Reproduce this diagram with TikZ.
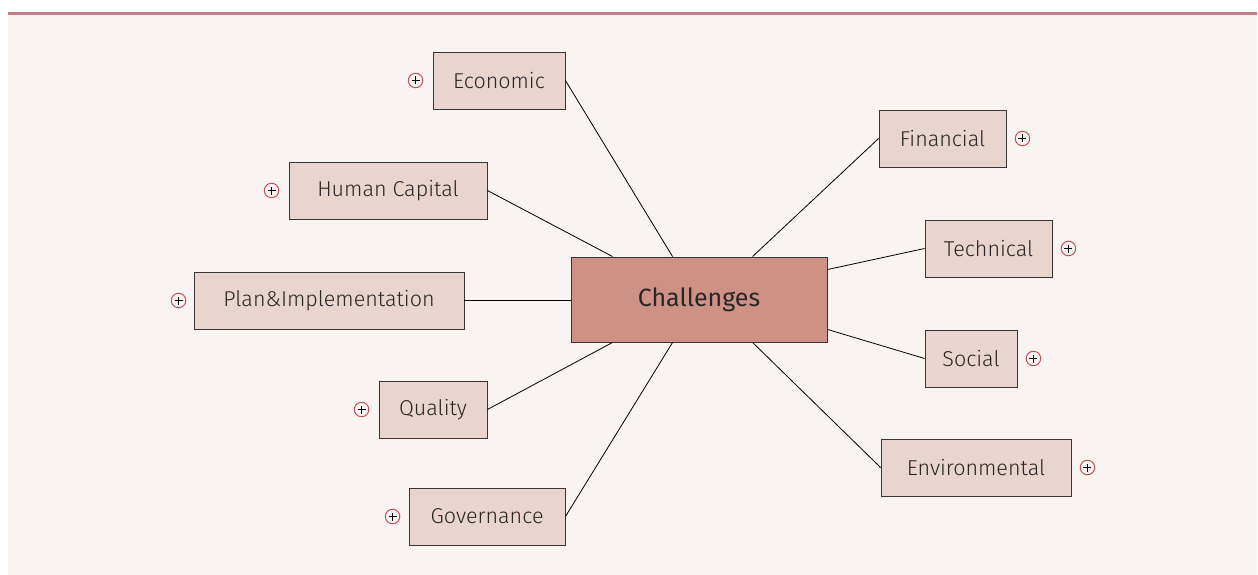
\documentclass[tikz,border=0pt]{standalone}
\usepackage{fontspec}
\setmainfont{Fira Sans}[UprightFont={* Light}]
\newfontfamily\regfont{Fira Sans}
\definecolor{bgc}{HTML}{F9F4F1}
\definecolor{topline}{HTML}{C47C84}
\definecolor{boxfill}{HTML}{E9D4CE}
\definecolor{rootfill}{HTML}{CE9186}
\definecolor{boxdraw}{HTML}{3A3434}
\definecolor{plusc}{HTML}{C8505A}
\definecolor{txt}{HTML}{2A2626}
\begin{document}
\begin{tikzpicture}[x=1pt,y=-1pt,
  child/.style={draw=boxdraw,fill=boxfill,line width=0.9pt,minimum height=57pt,inner sep=0pt,text=txt,font=\fontsize{21.5}{24}\selectfont},
  root/.style={draw=boxdraw,fill=rootfill,line width=0.9pt,minimum width=256pt,minimum height=85pt,inner sep=0pt,text=txt,font=\regfont\fontsize{25}{28}\selectfont},
  link/.style={draw=black,line width=0.8pt},
  plus/.style={circle,draw=plusc,fill=bgc,line width=1pt,minimum size=14.5pt,inner sep=0pt,
    path picture={\draw[black,line width=0.9pt] ([xshift=-4pt]path picture bounding box.center) -- ([xshift=4pt]path picture bounding box.center);
                  \draw[black,line width=0.9pt] ([yshift=-4pt]path picture bounding box.center) -- ([yshift=4pt]path picture bounding box.center);}}]
\useasboundingbox (0,0) rectangle (1258,575);
\fill[white] (0,0) rectangle (1258,575);
\fill[bgc] (8,13) rectangle (1257,575);
\fill[topline] (8,12.5) rectangle (1257,15);

\node[root] (C) at (699,299.5) {Challenges};

\node[child,minimum width=132pt] (eco) at (499,80.5) {Economic};
\node[child,minimum width=198pt] (hum) at (388,190.5) {Human Capital};
\node[child,minimum width=270pt] (plan) at (329,300.5) {Plan\&Implementation};
\node[child,minimum width=108pt] (qual) at (433,409.5) {Quality};
\node[child,minimum width=156pt] (gov) at (487,516.5) {Governance};
\node[child,minimum width=127pt] (fin) at (942.5,138.5) {Financial};
\node[child,minimum width=127pt] (tech) at (988.5,248.5) {Technical};
\node[child,minimum width=92pt] (soc) at (971,358.5) {Social};
\node[child,minimum width=190pt] (env) at (976,467.5) {Environmental};

\coordinate (t1) at ([xshift=42pt]C.north west);
\coordinate (t2) at ([xshift=102pt]C.north west);
\coordinate (t3) at ([xshift=182pt]C.north west);
\coordinate (b1) at ([xshift=42pt]C.south west);
\coordinate (b2) at ([xshift=102pt]C.south west);
\coordinate (b3) at ([xshift=182pt]C.south west);
\coordinate (r1) at ([yshift=-13pt]C.north east);
\coordinate (r2) at ([yshift=13pt]C.south east);

\draw[link] (t2) -- (eco.east);
\draw[link] (t1) -- (hum.east);
\draw[link] (C.west |- plan.east) -- (plan.east);
\draw[link] (b1) -- (qual.east);
\draw[link] (b2) -- (gov.east);
\draw[link] (t3) -- (fin.west);
\draw[link] (r1) -- (tech.west);
\draw[link] (r2) -- (soc.west);
\draw[link] (b3) -- (env.west);

\node[plus] (peco) at ([xshift=-17pt]eco.west) {};
\node[plus] (phum) at ([xshift=-17pt]hum.west) {};
\node[plus] (pplan) at ([xshift=-15pt]plan.west) {};
\node[plus] (pqual) at ([xshift=-17pt]qual.west) {};
\node[plus] (pgov) at ([xshift=-16pt]gov.west) {};
\node[plus] (pfin) at ([xshift=16pt]fin.east) {};
\node[plus] (ptech) at ([xshift=16pt]tech.east) {};
\node[plus] (psoc) at ([xshift=16pt]soc.east) {};
\node[plus] (penv) at ([xshift=16pt]env.east) {};
\end{tikzpicture}
\end{document}
